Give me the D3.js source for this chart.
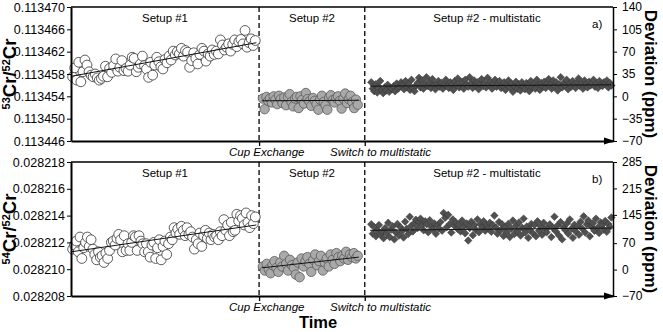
<!DOCTYPE html>
<html>
<head>
<meta charset="utf-8">
<script src="https://cdn.jsdelivr.net/npm/d3@7"></script>
<style>
  html, body { margin: 0; padding: 0; background: #fff; }
  svg text { font-family: "Liberation Sans", Arial, sans-serif; }
</style>
</head>
<body>
<div id="chart"></div>
<script>
// ---- data ----
const segmentNames = ["Setup #1", "Setup #2", "Setup #2 - multistatic"];
const eventNames = ["Cup Exchange", "Switch to multistatic"];
const eventTimes = [34.7, 54.2];           // time of cup exchange / switch
const segTimeSpans = [[0.3, 34.0], [35.4, 52.9], [55.4, 99.7]];

// panel a) 53Cr/52Cr
const ticksA = [0.113446, 0.113450, 0.113454, 0.113458, 0.113462, 0.113466, 0.113470];
const devTicksA = [-70, -35, 0, 35, 70, 105, 140];
const setup1A = [
  0.1134575, 0.1134591, 0.1134569, 0.1134601, 0.1134566, 0.1134584, 0.1134605, 0.1134596, 0.1134584, 0.1134578,
  0.1134575, 0.1134580, 0.1134573, 0.1134569, 0.1134572, 0.1134576, 0.1134594, 0.1134575, 0.1134590, 0.1134583,
  0.1134595, 0.1134607, 0.1134585, 0.1134592, 0.1134604, 0.1134586, 0.1134590, 0.1134585, 0.1134596, 0.1134610,
  0.1134608, 0.1134584, 0.1134592, 0.1134598, 0.1134612, 0.1134595, 0.1134589, 0.1134574, 0.1134601, 0.1134578,
  0.1134596, 0.1134610, 0.1134602, 0.1134593, 0.1134589, 0.1134606, 0.1134600, 0.1134612, 0.1134605, 0.1134621,
  0.1134614, 0.1134620, 0.1134616, 0.1134626, 0.1134612, 0.1134622, 0.1134619, 0.1134592, 0.1134604, 0.1134618,
  0.1134608, 0.1134598, 0.1134615, 0.1134626, 0.1134621, 0.1134603, 0.1134616, 0.1134612, 0.1134623, 0.1134615,
  0.1134621, 0.1134616, 0.1134641, 0.1134632, 0.1134623, 0.1134628, 0.1134634, 0.1134621, 0.1134633, 0.1134641,
  0.1134629, 0.1134638, 0.1134642, 0.1134634, 0.1134658, 0.1134628, 0.1134636, 0.1134643, 0.1134631, 0.1134640
];
const setup2A = [
  0.1134536, 0.1134517, 0.1134539, 0.1134532, 0.1134536, 0.1134529, 0.1134540, 0.1134534, 0.1134526, 0.1134541,
  0.1134535, 0.1134528, 0.1134538, 0.1134524, 0.1134539, 0.1134544, 0.1134530, 0.1134522, 0.1134536, 0.1134539,
  0.1134519, 0.1134540, 0.1134534, 0.1134527, 0.1134546, 0.1134535, 0.1134531, 0.1134523, 0.1134537, 0.1134532,
  0.1134526, 0.1134516, 0.1134534, 0.1134541, 0.1134530, 0.1134524, 0.1134516, 0.1134538, 0.1134542, 0.1134533,
  0.1134529, 0.1134537, 0.1134540, 0.1134532, 0.1134518, 0.1134536, 0.1134545, 0.1134528, 0.1134535, 0.1134541,
  0.1134530, 0.1134519, 0.1134534, 0.1134525
];
const multiA = [  // deviation, ppm
  22, 12, 8, 19, 6, 15, 24, 10, 5, 14, 9, 18, 7, 13, 11,
  16, 8, 20, 12, 15, 22, 18, 11, 24, 14, 19, 10, 26, 13, 8,
  17, 21, 29, 14, 25, 12, 19, 30, 16, 22, 13, 27, 18, 11, 20,
  24, 15, 21, 12, 18, 26, 16, 13, 22, 19, 10, 24, 17, 28, 14,
  20, 23, 12, 26, 18, 15, 30, 21, 13, 25, 17, 22, 11, 19, 27,
  16, 21, 14, 29, 18, 23, 12, 20, 26, 15, 19, 24, 13, 17, 22,
  10, 18, 25, 14, 20, 7, 16, 23, 12, 19, 9, 22, 15, 11, 21,
  17, 8, 24, 14, 19, 12, 26, 18, 10, 21, 15, 23, 13, 20, 27,
  18, 12, 25, 16, 22, 9, 19, 30, 14, 21, 17, 26, 11, 20, 15,
  24, 18, 13, 22, 28, 16, 20, 12, 25, 19, 14, 23, 17, 21, 26,
  15, 20, 13, 24, 18, 16, 22, 19, 25, 14, 21, 17
];
const trend1A = [0.1134576, 0.1134636];
const trend2A = [0.1134532, 0.1134533];
const trendMultiA = [16, 18];

// panel b) 54Cr/52Cr
const ticksB = [0.028208, 0.028210, 0.028212, 0.028214, 0.028216, 0.028218];
const devTicksB = [-70, 0, 70, 145, 215, 285];
const setup1B = [
  0.0282115, 0.0282118, 0.0282121, 0.0282113, 0.0282124, 0.0282108, 0.0282116, 0.0282120, 0.0282124, 0.0282117,
  0.0282122, 0.0282115, 0.0282111, 0.0282107, 0.0282113, 0.0282109, 0.0282110, 0.0282105, 0.0282112, 0.0282108,
  0.0282114, 0.0282120, 0.0282121, 0.0282118, 0.0282123, 0.0282126, 0.0282122, 0.0282113, 0.0282125, 0.0282114,
  0.0282119, 0.0282114, 0.0282120, 0.0282125, 0.0282124, 0.0282114, 0.0282125, 0.0282121, 0.0282119, 0.0282113,
  0.0282119, 0.0282113, 0.0282109, 0.0282118, 0.0282120, 0.0282108, 0.0282116, 0.0282122, 0.0282107, 0.0282117,
  0.0282121, 0.0282111, 0.0282119, 0.0282124, 0.0282122, 0.0282131, 0.0282127, 0.0282130, 0.0282126, 0.0282132,
  0.0282129, 0.0282125, 0.0282131, 0.0282126, 0.0282128, 0.0282124, 0.0282115, 0.0282122, 0.0282119, 0.0282127,
  0.0282117, 0.0282125, 0.0282129, 0.0282123, 0.0282127, 0.0282122, 0.0282126, 0.0282124, 0.0282125, 0.0282122,
  0.0282128, 0.0282125, 0.0282137, 0.0282129, 0.0282133, 0.0282125, 0.0282135, 0.0282128, 0.0282129, 0.0282141,
  0.0282136, 0.0282140, 0.0282138, 0.0282133, 0.0282142, 0.0282135, 0.0282131, 0.0282140, 0.0282134, 0.0282139
];
const setup2B = [
  0.0282102, 0.0282099, 0.0282104, 0.0282100, 0.0282097, 0.0282103, 0.0282106, 0.0282101, 0.0282098, 0.0282105,
  0.0282102, 0.0282110, 0.0282104, 0.0282099, 0.0282107, 0.0282103, 0.0282101, 0.0282096, 0.0282105, 0.0282094,
  0.0282108, 0.0282102, 0.0282106, 0.0282109, 0.0282104, 0.0282098, 0.0282107, 0.0282111, 0.0282103, 0.0282106,
  0.0282110, 0.0282099, 0.0282105, 0.0282108, 0.0282102, 0.0282111, 0.0282107, 0.0282104, 0.0282112, 0.0282109,
  0.0282106, 0.0282110, 0.0282108, 0.0282113, 0.0282107, 0.0282111, 0.0282109, 0.0282112, 0.0282108, 0.0282110
];
const multiB = [  // deviation, ppm
  120, 95, 112, 88, 104, 118, 92, 100, 83, 110, 97, 124, 86, 106, 115,
  80, 98, 121, 90, 112, 102, 85, 127, 108, 94, 140, 116, 101, 123, 132,
  110, 126, 135, 118, 104, 128, 120, 99, 131, 114, 107, 122, 95, 117, 109,
  126, 103, 150, 137, 112, 145, 121, 98, 133, 116, 125, 108, 119, 101, 130,
  114, 96, 122, 77, 110, 127, 91, 118, 105, 133, 99, 120, 112, 128, 103,
  116, 109, 124, 100, 118, 143, 111, 95, 126, 104, 120, 89, 113, 99, 121,
  86, 108, 130, 94, 117, 102, 125, 90, 111, 135, 98, 114, 84, 106, 121,
  96, 118, 88, 128, 103, 115, 92, 124, 107, 99, 113, 120, 86, 110, 140,
  101, 117, 90, 126, 80, 112, 105, 122, 95, 133, 108, 84, 119, 100, 115,
  92, 127, 109, 141, 98, 120, 130, 88, 114, 123, 103, 135, 111, 97, 125,
  118, 106, 129, 100, 121, 113, 138
];
const trend1B = [0.0282113, 0.0282133];
const trend2B = [0.0282101, 0.0282109];
const trendMultiB = [104, 110];

// ---- layout ----
const W = 663, H = 332;
const X0 = 71, X1 = 613;

const svg = d3.select("#chart").append("svg")
  .attr("width", W).attr("height", H);

const x = d3.scaleLinear().domain([0, 100]).range([X0, X1]);

// place each measurement of a segment along its time span
function timesFor(values, span) {
  const idx = d3.scaleLinear().domain([0, values.length - 1]).range(span);
  return values.map((v, i) => ({t: idx(i), v: v}));
}

function drawPanel(p) {
  const y = d3.scaleLinear().domain(d3.extent(p.ticks)).range([p.bottom, p.top]);
  const yDev = d3.scaleLinear().domain(d3.extent(p.devTicks)).range([p.bottom, p.top]);
  const g = svg.append("g");

  // frame top
  g.append("line").attr("x1", X0).attr("x2", X1).attr("y1", p.top).attr("y2", p.top)
    .attr("stroke", "#000").attr("stroke-width", 1.5);

  // dashed separators
  g.selectAll(".sep").data(eventTimes).enter().append("line")
    .attr("x1", d => x(d)).attr("x2", d => x(d))
    .attr("y1", p.top).attr("y2", p.bottom)
    .attr("stroke", "#000").attr("stroke-width", 1.3)
    .attr("stroke-dasharray", "5,3");

  // points
  const s1 = timesFor(p.s1, segTimeSpans[0]);
  const s2 = timesFor(p.s2, segTimeSpans[1]);
  const sm = timesFor(p.multi, segTimeSpans[2]);

  g.selectAll(".p1").data(s1).enter().append("circle")
    .attr("cx", d => x(d.t)).attr("cy", d => y(d.v)).attr("r", 4.9)
    .attr("fill", "#fff").attr("stroke", "#333").attr("stroke-width", 0.8);

  g.selectAll(".p2").data(s2).enter().append("circle")
    .attr("cx", d => x(d.t)).attr("cy", d => y(d.v)).attr("r", 4.7)
    .attr("fill", "#a9a9a9").attr("stroke", "#5a5a5a").attr("stroke-width", 0.8);

  const diamond = d3.symbol().type(d3.symbolSquare).size(28);
  g.selectAll(".pm").data(sm).enter().append("path")
    .attr("d", diamond)
    .attr("transform", d => `translate(${x(d.t)},${yDev(d.v)}) rotate(45)`)
    .attr("fill", "#505050").attr("stroke", "#333").attr("stroke-width", 0.5);

  // trend lines
  const trends = [
    {span: [segTimeSpans[0][0] - 0.2, segTimeSpans[0][1] + 0.2], v: p.tr1, s: y},
    {span: [segTimeSpans[1][0] - 0.2, segTimeSpans[1][1] + 0.2], v: p.tr2, s: y},
    {span: [segTimeSpans[2][0] - 0.2, segTimeSpans[2][1]], v: p.trM, s: yDev}
  ];
  g.selectAll(".tr").data(trends).enter().append("line")
    .attr("x1", d => x(d.span[0])).attr("x2", d => x(d.span[1]))
    .attr("y1", d => d.s(d.v[0])).attr("y2", d => d.s(d.v[1]))
    .attr("stroke", "#111").attr("stroke-width", 1);

  // left axis
  const la = g.append("g").attr("transform", `translate(${X0},0)`)
    .call(d3.axisLeft(y).tickValues(p.ticks).tickFormat(d3.format(".6f")).tickSize(4).tickSizeOuter(0).tickPadding(2));
  la.select(".domain").attr("stroke-width", 2);
  la.selectAll("text").attr("font-size", 12.5).attr("font-family", "Liberation Sans, Arial, sans-serif").attr("fill", "#000");

  // right axis
  const ra = g.append("g").attr("transform", `translate(${X1},0)`)
    .call(d3.axisRight(yDev).tickValues(p.devTicks).tickSize(4).tickSizeOuter(0).tickPadding(5));
  ra.select(".domain").attr("stroke-width", 1.5);
  ra.selectAll("text").attr("font-size", 12).attr("font-family", "Liberation Sans, Arial, sans-serif").attr("fill", "#000");

  // bottom axis with event ticks
  const ba = g.append("g").attr("transform", `translate(0,${p.bottom})`)
    .call(d3.axisBottom(x).tickValues(eventTimes).tickFormat("").tickSize(5).tickSizeOuter(0));
  ba.select(".domain").attr("stroke-width", 2);
  ba.selectAll(".tick line").attr("stroke-width", 1.3);
  // arrow head
  g.append("path")
    .attr("d", `M${X1 - 9},${p.bottom - 3.5}L${X1 + 2},${p.bottom}L${X1 - 9},${p.bottom + 3.5}Z`)
    .attr("fill", "#000");

  // event labels
  const evX = [229, 330];
  g.selectAll(".ev").data(eventNames).enter().append("text")
    .attr("x", (d, i) => evX[i]).attr("y", p.bottom + 15)
    .attr("font-size", 11.5).attr("font-style", "italic")
    .text(d => d);

  // segment titles
  const segX = [165, 312, 487];
  g.selectAll(".seg").data(segmentNames).enter().append("text")
    .attr("x", (d, i) => segX[i]).attr("y", p.top + 15)
    .attr("text-anchor", "middle").attr("font-size", 11.5)
    .text(d => d);

  g.append("text").attr("x", 592).attr("y", p.top + 21)
    .attr("font-size", 11.5).text(p.tag);

  // left title
  const lt = g.append("text")
    .attr("transform", `translate(16,${(p.top + p.bottom) / 2}) rotate(-90)`)
    .attr("text-anchor", "middle").attr("font-weight", "bold").attr("font-size", 18.5);
  lt.append("tspan").attr("font-size", 11).attr("dy", -6).text(p.iso);
  lt.append("tspan").attr("dy", 6).text("Cr/");
  lt.append("tspan").attr("font-size", 11).attr("dy", -6).text("52");
  lt.append("tspan").attr("dy", 6).text("Cr");

  // right title
  g.append("text")
    .attr("transform", `translate(645,${(p.top + p.bottom) / 2}) rotate(90)`)
    .attr("text-anchor", "middle").attr("font-weight", "bold").attr("font-size", 17)
    .text("Deviation (ppm)");
}

drawPanel({top: 7, bottom: 141, ticks: ticksA, devTicks: devTicksA,
  s1: setup1A, s2: setup2A, multi: multiA, tr1: trend1A, tr2: trend2A, trM: trendMultiA,
  tag: "a)", iso: "53"});
drawPanel({top: 162, bottom: 296, ticks: ticksB, devTicks: devTicksB,
  s1: setup1B, s2: setup2B, multi: multiB, tr1: trend1B, tr2: trend2B, trM: trendMultiB,
  tag: "b)", iso: "54"});

svg.append("text").attr("x", 318).attr("y", 328)
  .attr("text-anchor", "middle").attr("font-weight", "bold").attr("font-size", 16.5)
  .text("Time");
</script>
</body>
</html>
